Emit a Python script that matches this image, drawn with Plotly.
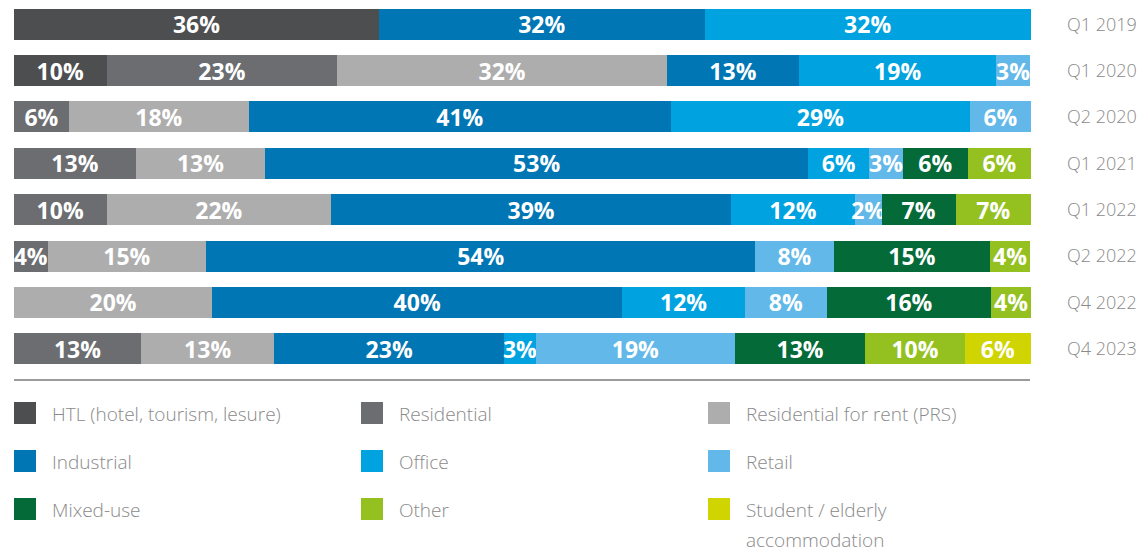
import plotly.graph_objects as go

# Quarters, top to bottom
quarters = ["Q1 2019", "Q1 2020", "Q2 2020", "Q1 2021", "Q1 2022", "Q2 2022", "Q4 2022", "Q4 2023"]

# Segment shares (%); None = no segment in that quarter
htl = [35.9, 9.1, None, None, None, None, None, None]
residential = [None, 22.7, 5.4, 12.0, 9.1, 3.3, None, 12.5]
prs = [None, 32.4, 17.7, 12.7, 22.1, 15.6, 19.5, 13.1]
industrial = [32.0, 13.0, 41.5, 53.4, 39.3, 54.0, 40.3, 22.6]
office = [32.1, 19.4, 29.4, 6.0, 12.2, None, 12.1, 3.1]
retail = [None, 3.3, 6.0, 3.3, 2.6, 7.7, 8.0, 19.6]
mixed = [None, None, None, 6.4, 7.3, 15.4, 16.2, 12.8]
other = [None, None, None, 6.2, 7.4, 3.9, 3.9, 9.8]
student = [None, None, None, None, None, None, None, 6.5]

# Printed labels (rounded figures as shown on the chart)
htl_lbl = ["36%", "10%", "", "", "", "", "", ""]
residential_lbl = ["", "23%", "6%", "13%", "10%", "4%", "", "13%"]
prs_lbl = ["", "32%", "18%", "13%", "22%", "15%", "20%", "13%"]
industrial_lbl = ["32%", "13%", "41%", "53%", "39%", "54%", "40%", "23%"]
office_lbl = ["32%", "19%", "29%", "6%", "12%", "", "12%", "3%"]
retail_lbl = ["", "3%", "6%", "3%", "2%", "8%", "8%", "19%"]
mixed_lbl = ["", "", "", "6%", "7%", "15%", "16%", "13%"]
other_lbl = ["", "", "", "6%", "7%", "4%", "4%", "10%"]
student_lbl = ["", "", "", "", "", "", "", "6%"]

names = ["HTL (hotel, tourism, lesure)", "Residential", "Residential for rent (PRS)",
         "Industrial", "Office", "Retail",
         "Mixed-use", "Other", "Student / elderly<br>accommodation"]
colors = ["#4d4e50", "#6b6d71", "#adadad",
          "#0076b4", "#00a3e0", "#62b8e8",
          "#046a38", "#94c11f", "#d0d400"]

series = [htl, residential, prs, industrial, office, retail, mixed, other, student]
labels = [htl_lbl, residential_lbl, prs_lbl, industrial_lbl, office_lbl, retail_lbl,
          mixed_lbl, other_lbl, student_lbl]

W, H = 1140, 552
ML, MR, MT, MB = 14, 109, 1, 180
plot_top, plot_bot = MT, H - MB
plot_left, plot_right = ML, W - MR


def xp(pix):
    return (pix - plot_left) / (plot_right - plot_left)


def yp(pix):
    return (plot_bot - pix) / (plot_bot - plot_top)


fig = go.Figure()
for name, vals, lbls, col in zip(names, series, labels, colors):
    fig.add_trace(go.Bar(
        y=quarters, x=vals, orientation="h", name=name,
        marker=dict(color=col, line=dict(width=0)),
        text=lbls, textposition="inside", insidetextanchor="middle", textangle=0,
        textfont=dict(family="Open Sans", size=23, color="white", weight="bold"),
        constraintext="none", width=0.67, showlegend=False,
        hoverinfo="skip",
    ))

shapes = []
annotations = []

# separator line under the bars
shapes.append(dict(type="line", xref="paper", yref="paper",
                   x0=xp(14), x1=xp(1030), y0=yp(380), y1=yp(380),
                   line=dict(color="#7a7a7a", width=1.5)))

# legend, drawn as a 3-column grid
col_x = [14, 361, 708]
row_y = [413, 461, 509]
for i, (name, col) in enumerate(zip(names, colors)):
    cx = col_x[i % 3]
    cy = row_y[i // 3]
    shapes.append(dict(type="rect", xref="paper", yref="paper",
                       x0=xp(cx), x1=xp(cx + 22), y0=yp(cy - 11), y1=yp(cy + 11),
                       fillcolor=col, line=dict(width=0)))
    for j, part in enumerate(name.split("<br>")):
        annotations.append(dict(
            xref="paper", yref="paper", x=xp(cx + 37), y=yp(cy + 1 + 30 * j),
            text=part, showarrow=False, xanchor="left", yanchor="middle", borderpad=0,
            font=dict(family="Open Sans", size=19, color="#8a8a8a", weight=300),
        ))

fig.update_layout(
    barmode="stack",
    width=W, height=H,
    margin=dict(l=ML, r=MR, t=MT, b=MB, pad=0),
    paper_bgcolor="white", plot_bgcolor="white",
    uniformtext=dict(minsize=23, mode="show"),
    xaxis=dict(range=[0, 100], visible=False, fixedrange=True),
    yaxis=dict(categoryorder="array", categoryarray=quarters, autorange="reversed",
               side="right", showgrid=False, zeroline=False, showline=False,
               ticks="", ticklabelstandoff=35, fixedrange=True,
               tickfont=dict(family="Open Sans", size=18, color="#8a8a8a", weight=300)),
    shapes=shapes,
    annotations=annotations,
    showlegend=False,
)

fig.write_html("out.html", config={"displayModeBar": False},
               post_script="document.body.style.margin='0';")
